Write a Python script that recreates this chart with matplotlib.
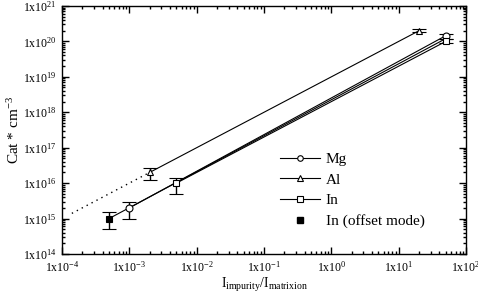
import math
import matplotlib
matplotlib.use("Agg")
import matplotlib.pyplot as plt
from matplotlib.ticker import LogLocator, FuncFormatter, NullFormatter

plt.rcParams['font.family'] = ['Liberation Serif', 'DejaVu Serif']
plt.rcParams['mathtext.fontset'] = 'custom'
plt.rcParams['mathtext.rm'] = 'Liberation Serif'
plt.rcParams['mathtext.it'] = 'Liberation Serif'

# measured points: x, y, lower error, upper error
mg_x = [1e-3, 50]
mg_y = [2e15, 1.45e20]
mg_lo = [1e15, 1.2e20]
mg_hi = [3e15, 1.65e20]

al_x = [2e-3, 20]
al_y = [2e16, 2e20]
al_lo = [1.2e16, 1.85e20]
al_hi = [2.7e16, 2.2e20]

in_x = [5e-3, 50]
in_y = [1e16, 1.05e20]
in_lo = [5e15, 0.9e20]
in_hi = [1.4e16, 1.2e20]

off_x = [5e-4]
off_y = [1e15]
off_lo = [5e14]
off_hi = [1.5e15]

# fit lines
mg_fit_x = [1e-3, 50]
mg_fit_y = [2e15, 1.45e20]
al_fit_x = [2e-3, 20]
al_fit_y = [2e16, 2e20]
al_ext_x = [1.4e-4, 2e-3]
al_ext_y = [1.4e15, 2e16]
in_fit_x = [5e-3, 50]
in_fit_y = [1e16, 1.0e20]
off_fit_x = [5e-4, 50]
off_fit_y = [1e15, 1.2e20]

fig = plt.figure(figsize=(4.78, 2.98), dpi=100)
ax = fig.add_axes([0.1297, 0.1477, 0.8453, 0.8323])
ax.set_xscale('log')
ax.set_yscale('log')
ax.set_xlim(1e-4, 1e2)
ax.set_ylim(1e14, 1e21)

lw = 0.8
ax.plot(mg_fit_x, mg_fit_y, color='black', lw=lw)
ax.plot(al_fit_x, al_fit_y, color='black', lw=lw)
ax.plot(al_ext_x, al_ext_y, color='black', lw=1.0, ls=(0, (1, 3)))
ax.plot(in_fit_x, in_fit_y, color='black', lw=lw)
ax.plot(off_fit_x, off_fit_y, color='black', lw=lw)

def errs(y, lo, hi):
    return [[a - b for a, b in zip(y, lo)], [b - a for a, b in zip(y, hi)]]

ek = dict(ls='none', ecolor='black', elinewidth=1.0, capsize=5, capthick=1.0,
          markersize=5, markeredgecolor='black', markeredgewidth=0.8)
ax.errorbar(mg_x, mg_y, yerr=errs(mg_y, mg_lo, mg_hi), marker='o', mfc='white', **ek)
ax.errorbar(al_x, al_y, yerr=errs(al_y, al_lo, al_hi), marker='^', mfc='white', **ek)
ax.errorbar(in_x, in_y, yerr=errs(in_y, in_lo, in_hi), marker='s', mfc='white', **ek)
ax.errorbar(off_x, off_y, yerr=errs(off_y, off_lo, off_hi), marker='s', mfc='black', **ek)

# legend
hmg, = ax.plot([], [], color='black', lw=lw, marker='o', mfc='white', mec='black', ms=4, mew=0.8)
hal, = ax.plot([], [], color='black', lw=lw, marker='^', mfc='white', mec='black', ms=4, mew=0.8)
hin, = ax.plot([], [], color='black', lw=lw, marker='s', mfc='white', mec='black', ms=4, mew=0.8)
hoff, = ax.plot([], [], ls='none', marker='s', mfc='black', mec='black', ms=5)
ax.legend([hmg, hal, hin, hoff], ['Mg', 'Al', 'In', 'In (offset mode)'],
          loc='upper left', bbox_to_anchor=(0.505, 0.465), frameon=False,
          fontsize=11, handlelength=2.6, handletextpad=0.4, labelspacing=0.45)

def fmt(v, pos):
    e = int(round(math.log10(v)))
    return r'1x10$^{%d}$' % e

ax.xaxis.set_major_locator(LogLocator(base=10, numticks=20))
ax.yaxis.set_major_locator(LogLocator(base=10, numticks=20))
ax.xaxis.set_minor_locator(LogLocator(base=10, subs=range(2, 10), numticks=20))
ax.yaxis.set_minor_locator(LogLocator(base=10, subs=range(2, 10), numticks=20))
ax.xaxis.set_major_formatter(FuncFormatter(fmt))
ax.yaxis.set_major_formatter(FuncFormatter(fmt))
ax.xaxis.set_minor_formatter(NullFormatter())
ax.yaxis.set_minor_formatter(NullFormatter())
ax.tick_params(which='both', direction='in', top=True, right=True, labelsize=8.5, width=1.0)
ax.tick_params(which='major', length=5, pad=4)
ax.tick_params(which='minor', length=2.5)
for s in ax.spines.values():
    s.set_linewidth(1.0)

ax.set_xlabel(r'I$_{\mathrm{impurity}}$/I$_{\mathrm{matrixion}}$', fontsize=10)
ax.set_ylabel(r'Cat * cm$^{-3}$', fontsize=11)
ax.xaxis.set_label_coords(0.5, -0.09)
ax.yaxis.set_label_coords(-0.10, 0.5)

fig.savefig('out.png', dpi=100)
